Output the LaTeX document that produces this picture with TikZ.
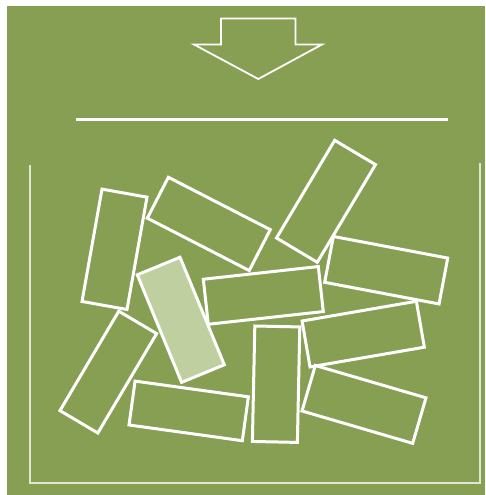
\documentclass[tikz,border=0pt]{standalone}
\definecolor{bggreen}{RGB}{135,159,82}
\definecolor{lightbrick}{RGB}{191,207,160}
\tikzset{
  brick/.style={draw=white, fill=bggreen, line width=3pt, inner sep=0pt, outer sep=0pt, rectangle, line join=miter},
  litbrick/.style={brick, fill=lightbrick},
  wall/.style={draw=white, draw opacity=0.75, line width=2pt},
  lid/.style={draw=white, line width=2.6pt},
  arrowshape/.style={draw=white, line width=1.8pt, line join=miter}
}
\begin{document}
\begin{tikzpicture}[x=1pt,y=-1pt]
\useasboundingbox (0,0) rectangle (485,495);
\fill[white] (0,0) rectangle (485,495);
\fill[bggreen] (7,6) rectangle (485,495);
% arrow
\coordinate (a1) at (221,18.5);
\coordinate (a2) at (295.5,18.5);
\coordinate (a3) at (295.5,44.5);
\coordinate (a4) at (322,44.5);
\coordinate (a5) at (258.3,79);
\coordinate (a6) at (194,44.5);
\coordinate (a7) at (221,44.5);
\draw[arrowshape] (a1) -- (a2) -- (a3) -- (a4) -- (a5) -- (a6) -- (a7) -- cycle;
% lid line
\coordinate (l1) at (75.5,119.3);
\coordinate (l2) at (448,119.3);
\draw[lid] (l1) -- (l2);
% container
\coordinate (c1) at (29.5,165);
\coordinate (c2) at (29.5,483.3);
\coordinate (c3) at (479.8,483.3);
\coordinate (c4) at (479.8,163);
\draw[wall] (c1) -- (c2) -- (c3) -- (c4);
% bricks
\node[brick, minimum width=45.7pt, minimum height=114.1pt, rotate=-10.1] (r1) at (114.5,249.3) {};
\node[brick, minimum width=114.6pt, minimum height=46pt, rotate=-27.2] (r2) at (208.8,223.9) {};
\node[brick, minimum width=47.5pt, minimum height=113.7pt, rotate=-30.8] (r3) at (326,201.3) {};
\node[brick, minimum width=116.4pt, minimum height=46.7pt, rotate=-10.7] (r4) at (386.2,270.2) {};
\node[brick, minimum width=114.4pt, minimum height=44.3pt, rotate=-7.9] (r8) at (188.7,410.9) {};
\node[brick, minimum width=44pt, minimum height=115.5pt, rotate=-30.6] (r7) at (108.3,372.1) {};
\node[litbrick, minimum width=46.2pt, minimum height=116.3pt, rotate=22.4] (r5) at (180.8,319.8) {};
\node[brick, minimum width=115.7pt, minimum height=45.3pt, rotate=6.3] (r6) at (263.3,295.4) {};
\node[brick, minimum width=45pt, minimum height=115.5pt, rotate=-1.2] (r9) at (276.1,384.2) {};
\node[brick, minimum width=116pt, minimum height=46.6pt, rotate=9.8] (r10) at (363.2,334.1) {};
\node[brick, minimum width=115.3pt, minimum height=47.4pt, rotate=-16.3] (r11) at (364,404.4) {};
\end{tikzpicture}
\end{document}
